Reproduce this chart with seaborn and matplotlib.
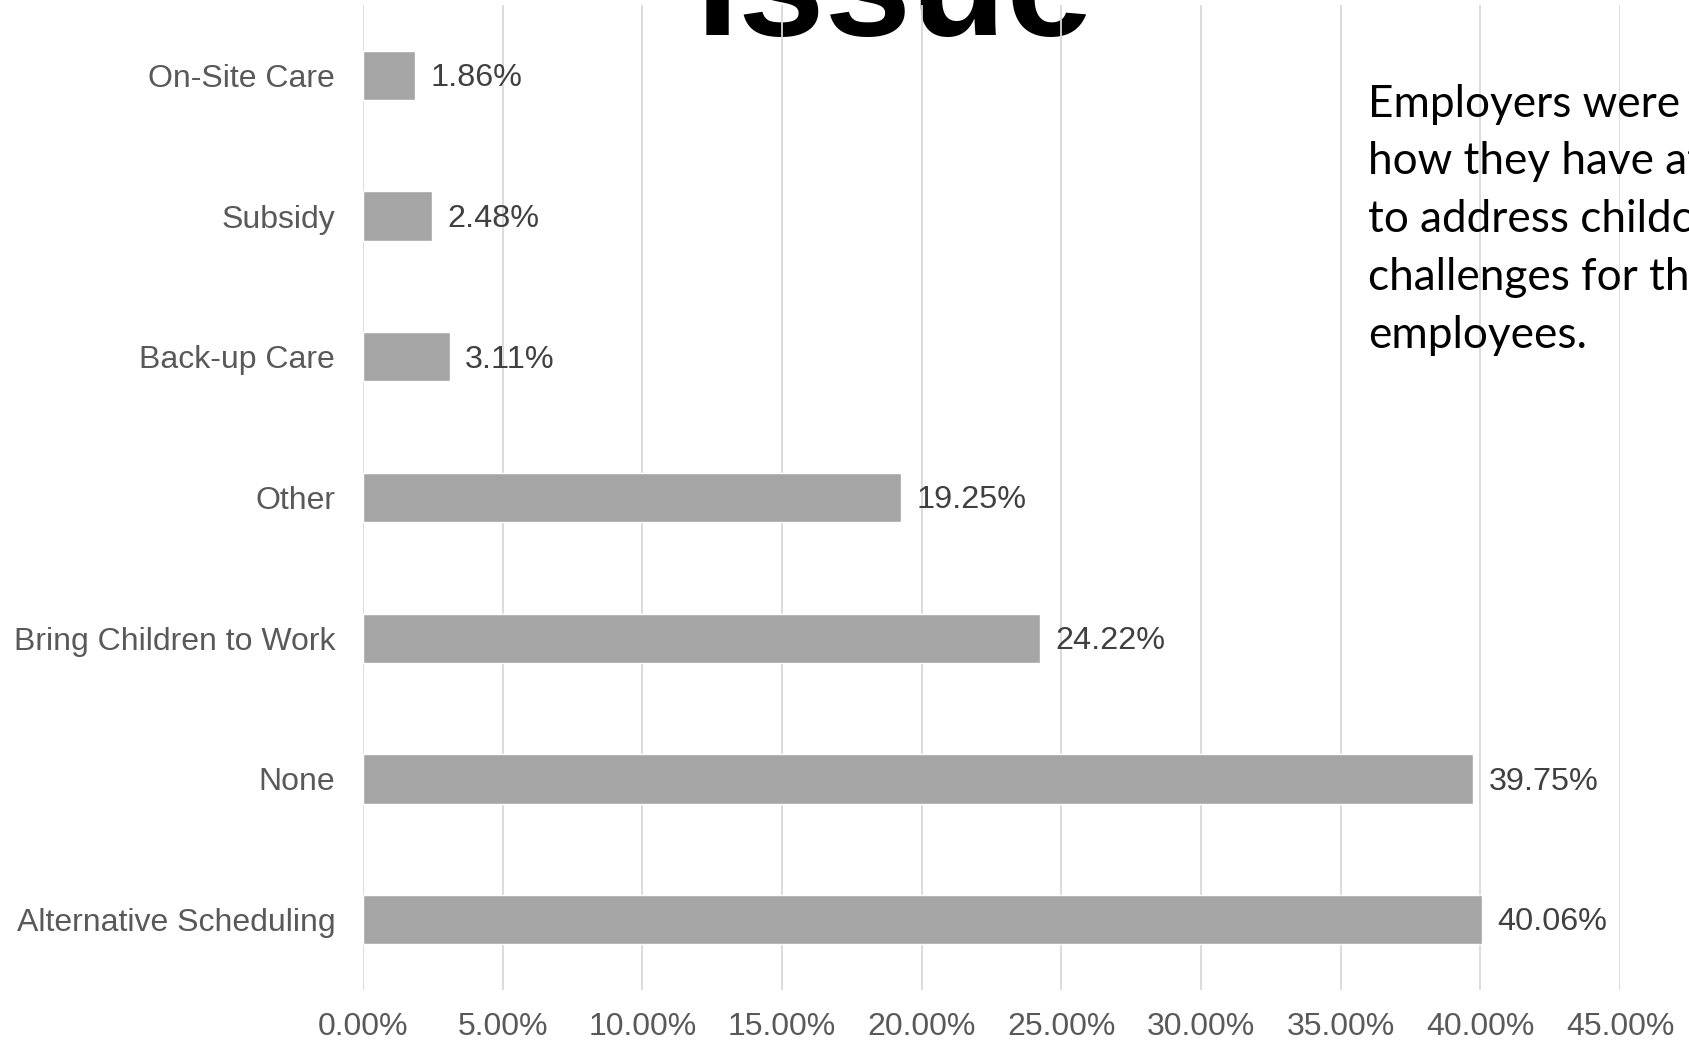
import matplotlib
matplotlib.use("Agg")
import matplotlib.pyplot as plt
import seaborn as sns
import pandas as pd
from matplotlib.ticker import FuncFormatter, MultipleLocator

categories = ["On-Site Care", "Subsidy", "Back-up Care", "Other",
              "Bring Children to Work", "None", "Alternative Scheduling"]
values = [1.86, 2.48, 3.11, 19.25, 24.22, 39.75, 40.06]
value_labels = ["1.86%", "2.48%", "3.11%", "19.25%", "24.22%", "39.75%", "40.06%"]
title_text = "Issue"
note_lines = ["Employers were asked", "how they have attempted",
              "to address childcare", "challenges for their", "employees."]

sns.set_theme(style="white")
plt.rcParams['font.family'] = ['Liberation Sans', 'DejaVu Sans']

df = pd.DataFrame({"category": categories, "value": values})

fig = plt.figure(figsize=(16.9, 10.42), dpi=100)
ax = fig.add_axes([363/1690, 1 - 990/1042, (1620 - 363)/1690, (990 - 5)/1042])
ax.patch.set_alpha(0)

sns.barplot(data=df, x="value", y="category", order=categories, orient="h",
            color="#A5A5A5", saturation=1, width=0.35, ax=ax, zorder=2)

ax.set_xlim(0, 45)
ax.set_ylim(6.5, -0.5)
ax.xaxis.set_major_locator(MultipleLocator(5))
ax.xaxis.set_major_formatter(FuncFormatter(lambda v, p: f"{v:.2f}%"))
ax.grid(axis="x", color="#D9D9D9", linewidth=1.3, zorder=0)
ax.grid(axis="y", visible=False)
ax.set_axisbelow(True)
for s in ax.spines.values():
    s.set_visible(False)
ax.set_xlabel("")
ax.set_ylabel("")
ax.tick_params(axis="x", length=0, pad=16, labelsize=23, labelcolor="#595959")
ax.tick_params(axis="y", length=0, pad=20, labelsize=23, labelcolor="#595959")

for i, (v, lab) in enumerate(zip(values, value_labels)):
    ax.text(v + 0.55, i + 0.02, lab, va="center", ha="left",
            fontsize=23.3, color="#404040")

fig.text(895/1690, 1 - 35/1042, title_text, ha="center", va="baseline",
         fontsize=112, fontweight="bold", color="black", zorder=-1)

for k, line in enumerate(note_lines):
    fig.text(1368/1690, 1 - (116.7 + 57.7*k)/1042, line, ha="left", va="baseline",
             fontsize=31.8, family=["Lato", "DejaVu Sans"], color="black")

fig.savefig("out.png", dpi=100)
